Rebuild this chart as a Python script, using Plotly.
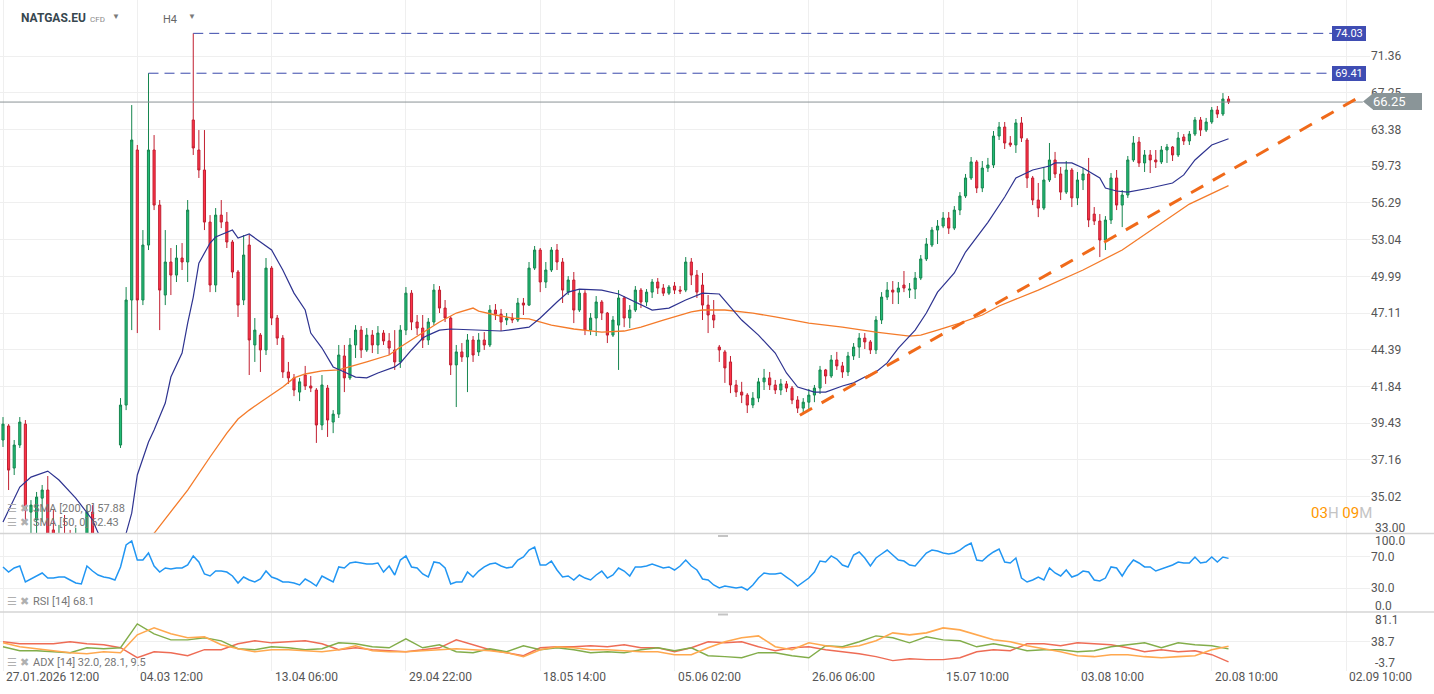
import math
import plotly.graph_objects as go

# ---------------- DATA ----------------
opens = [
38.37, 39.25, 36.67, 38.06, 39.37, 34.15, 33.72, 34.93, 35.39, 33.18,
32.39, 32.65, 32.13, 31.61, 32.39, 31.11, 34.15, 32.03, 30.12, 29.64,
28.70, 38.06, 40.60, 48.11, 61.31, 48.11, 52.58, 61.31, 56.09, 48.50,
51.16, 50.09, 51.49, 51.16, 64.36, 61.31, 59.36, 54.57, 49.29, 55.19,
54.57, 52.84, 50.34, 48.11, 52.58, 44.74, 45.46, 44.38, 50.66, 46.73,
45.24, 42.83, 42.42, 41.46, 42.62, 41.87, 41.60, 39.31, 41.73, 39.50,
40.01, 43.95, 42.42, 44.74, 45.83, 44.38, 45.46, 44.74, 45.61, 45.03,
44.38, 43.53, 45.83, 48.65, 46.43, 45.98, 45.10, 46.43, 48.89, 47.49,
46.73, 43.32, 44.24, 43.88, 45.10, 44.24, 45.10, 44.74, 47.34, 47.03,
46.58, 46.73, 46.58, 47.88, 47.72, 50.66, 52.16, 49.53, 50.50, 52.16,
51.16, 48.73, 49.69, 47.34, 48.65, 45.83, 46.73, 47.96, 47.11, 45.46,
46.20, 48.27, 46.73, 47.34, 48.89, 47.96, 48.73, 49.53, 49.05, 48.65,
49.21, 48.89, 48.89, 51.16, 50.09, 49.29, 47.72, 46.96, 44.59, 44.24,
43.53, 41.94, 41.46, 41.26, 40.60, 41.06, 42.15, 42.42, 41.94, 41.60,
42.01, 41.73, 40.93, 40.40, 40.79, 41.26, 41.73, 42.97, 42.55, 43.67,
43.25, 42.83, 43.95, 44.59, 45.24, 44.96, 44.38, 46.58, 48.34, 48.89,
48.73, 49.29, 48.89, 48.97, 49.85, 51.41, 52.58, 53.87, 54.22, 54.93,
54.04, 55.64, 56.92, 58.60, 60.14, 57.66, 59.55, 59.84, 62.71, 63.63,
62.01, 61.81, 64.05, 62.31, 58.60, 56.55, 55.82, 58.41, 60.33, 58.98,
57.28, 59.36, 56.74, 58.41, 58.98, 55.28, 54.66, 53.01, 54.75, 58.60,
56.09, 57.01, 60.33, 62.11, 60.04, 60.82, 60.33, 60.14, 61.31, 61.61,
60.82, 62.61, 62.21, 62.91, 64.36, 63.32, 64.15, 65.40, 64.98, 66.58,
]
highs = [
39.82, 39.37, 38.37, 39.82, 39.63, 34.82, 35.28, 35.68, 36.20, 34.26,
33.45, 33.99, 33.18, 33.29, 32.91, 34.54, 34.54, 32.65, 31.11, 30.61,
29.64, 41.06, 49.13, 65.93, 61.81, 53.87, 69.41, 62.81, 56.55, 53.87,
52.33, 52.58, 52.75, 56.55, 74.03, 63.32, 63.32, 55.19, 55.82, 56.55,
55.46, 53.01, 50.50, 53.44, 53.44, 46.73, 45.61, 51.49, 50.83, 46.96,
45.46, 43.53, 42.69, 42.42, 43.25, 42.55, 41.73, 42.62, 41.94, 40.27,
44.74, 44.74, 45.24, 46.20, 46.13, 45.98, 45.83, 46.13, 45.83, 45.61,
45.83, 46.20, 49.13, 48.89, 46.96, 46.96, 46.73, 49.37, 49.21, 48.11,
46.88, 44.74, 44.88, 45.54, 45.39, 45.61, 45.68, 47.72, 47.80, 47.42,
47.11, 47.11, 48.27, 48.27, 51.16, 52.50, 52.33, 51.16, 52.41, 52.67,
51.49, 50.01, 50.34, 48.89, 48.89, 47.11, 48.42, 48.11, 47.19, 46.88,
48.89, 48.42, 47.72, 49.21, 49.05, 48.97, 49.77, 49.85, 49.37, 49.29,
49.53, 49.21, 51.57, 51.49, 50.50, 50.26, 48.50, 48.11, 44.74, 44.38,
43.95, 42.28, 42.15, 41.39, 41.46, 42.42, 43.04, 42.83, 42.28, 42.35,
42.21, 41.87, 41.19, 41.06, 41.67, 41.94, 43.25, 43.04, 44.02, 44.24,
43.53, 44.24, 44.88, 45.61, 45.61, 45.10, 46.88, 48.73, 49.53, 49.61,
49.53, 50.42, 49.45, 50.34, 51.74, 53.18, 54.13, 54.75, 55.46, 55.46,
56.00, 57.28, 58.98, 60.62, 60.33, 60.23, 60.53, 63.22, 64.15, 64.15,
62.71, 64.46, 64.67, 62.51, 58.79, 58.13, 59.65, 62.01, 61.12, 59.65,
60.23, 59.55, 59.17, 59.55, 60.53, 55.91, 55.28, 55.10, 59.07, 59.36,
57.47, 60.72, 62.71, 62.61, 61.31, 61.31, 61.31, 61.71, 61.91, 61.71,
63.12, 62.91, 63.22, 64.67, 64.67, 64.57, 65.72, 65.83, 67.22, 66.90,
]
lows = [
37.94, 35.39, 36.26, 37.88, 33.72, 32.65, 32.91, 33.61, 32.39, 32.13,
31.61, 31.87, 31.11, 30.86, 30.86, 30.86, 31.61, 29.64, 28.70, 27.79,
27.34, 37.88, 40.27, 45.83, 45.61, 47.72, 52.16, 55.64, 45.83, 47.72,
48.50, 49.53, 50.50, 49.53, 60.82, 58.60, 53.87, 48.73, 48.73, 54.04,
52.33, 49.85, 46.81, 47.72, 42.62, 43.53, 42.83, 44.02, 46.20, 44.74,
42.42, 42.01, 41.19, 40.86, 41.60, 41.46, 38.19, 38.99, 38.56, 38.80,
39.76, 41.46, 42.28, 43.81, 43.81, 44.24, 44.16, 44.09, 44.74, 44.02,
42.97, 43.11, 45.46, 45.83, 45.46, 44.52, 44.74, 46.20, 47.11, 46.43,
42.62, 40.47, 43.53, 41.46, 43.53, 43.95, 44.38, 44.59, 46.58, 45.76,
46.20, 46.35, 46.43, 46.96, 47.65, 50.50, 48.73, 49.05, 50.34, 50.50,
47.88, 48.50, 46.35, 47.19, 45.46, 45.46, 45.39, 46.58, 44.88, 45.32,
42.97, 46.05, 45.98, 47.19, 47.49, 47.65, 48.27, 48.58, 48.42, 48.50,
48.58, 48.58, 48.73, 49.29, 48.27, 46.58, 45.61, 45.98, 43.53, 42.08,
41.39, 41.13, 40.73, 40.08, 40.40, 40.79, 41.60, 41.60, 41.33, 41.26,
41.46, 40.66, 40.08, 40.01, 40.27, 40.79, 41.33, 42.01, 42.42, 42.97,
42.42, 42.55, 43.67, 43.81, 44.45, 44.09, 44.09, 46.28, 48.11, 47.80,
47.80, 48.73, 48.27, 48.19, 49.69, 51.24, 52.41, 52.67, 54.04, 53.53,
53.87, 55.19, 56.74, 58.41, 57.19, 57.28, 59.17, 59.55, 62.31, 61.41,
61.61, 61.02, 62.11, 57.66, 56.09, 55.01, 55.64, 58.22, 58.60, 56.55,
57.10, 55.91, 56.09, 57.47, 54.13, 54.31, 51.57, 52.16, 54.40, 55.64,
54.13, 56.74, 60.14, 59.65, 59.17, 59.07, 59.55, 59.94, 60.04, 60.23,
60.62, 61.81, 61.81, 62.71, 62.71, 63.12, 63.95, 64.57, 64.77, 66.04,
]
closes = [
39.37, 36.55, 38.06, 39.50, 34.26, 34.54, 34.99, 35.39, 32.91, 32.39,
32.65, 32.13, 31.61, 32.39, 31.11, 34.15, 32.13, 30.12, 29.64, 28.70,
29.16, 40.60, 48.11, 62.31, 48.11, 52.58, 61.31, 56.09, 48.89, 51.16,
50.09, 51.49, 51.16, 55.64, 61.51, 59.36, 54.57, 49.29, 55.19, 54.57,
52.84, 50.34, 47.72, 51.74, 45.10, 45.83, 44.38, 50.66, 46.73, 45.24,
42.83, 42.42, 41.60, 42.15, 41.87, 41.73, 39.31, 41.94, 39.63, 40.01,
44.02, 42.42, 44.74, 45.83, 44.38, 45.46, 44.74, 45.61, 45.03, 44.52,
43.53, 45.83, 48.65, 46.43, 45.98, 45.10, 46.43, 48.89, 47.49, 46.73,
43.32, 44.24, 43.88, 45.10, 44.02, 45.10, 44.74, 47.34, 47.03, 46.43,
46.73, 46.58, 47.88, 47.72, 50.66, 52.16, 49.53, 50.50, 52.16, 51.16,
48.89, 49.69, 47.34, 48.65, 45.83, 46.73, 47.96, 47.11, 45.46, 46.58,
48.27, 46.73, 47.34, 48.89, 47.96, 48.73, 49.53, 49.05, 48.65, 49.13,
48.89, 48.81, 51.16, 50.09, 48.73, 47.72, 46.96, 46.58, 44.38, 43.11,
41.94, 41.46, 41.26, 40.60, 41.06, 42.15, 42.42, 41.94, 41.60, 42.01,
41.73, 40.93, 40.40, 40.79, 41.26, 41.73, 42.97, 42.55, 43.67, 43.25,
42.83, 43.95, 44.59, 45.24, 44.96, 44.38, 46.58, 48.34, 48.89, 48.73,
49.05, 49.05, 48.97, 49.85, 51.41, 52.67, 53.87, 54.22, 54.93, 54.04,
55.64, 56.92, 58.60, 60.14, 57.66, 59.55, 59.84, 62.71, 63.63, 62.01,
61.81, 64.05, 62.51, 58.60, 56.55, 55.82, 58.41, 60.33, 58.98, 57.28,
59.36, 56.74, 58.41, 58.98, 54.75, 54.66, 53.01, 54.75, 58.60, 56.09,
57.01, 60.33, 62.01, 60.04, 60.82, 60.33, 60.14, 61.31, 61.61, 60.82,
62.51, 62.21, 62.91, 64.36, 63.32, 64.15, 65.40, 64.98, 66.58, 66.25,
]
candle_idx = list(range(len(closes)))

x_tick_idx = [0, 24, 48, 72, 96, 120, 144, 168, 192, 216, 240]
x_tick_text = ["27.01.2026 12:00", "04.03 12:00", "13.04 06:00", "29.04 22:00",
               "18.05 14:00", "05.06 02:00", "26.06 06:00", "15.07 10:00",
               "03.08 10:00", "20.08 10:00", "02.09 10:00"]

price_ticks = [35.02, 37.16, 39.43, 41.84, 44.39, 47.11, 49.99, 53.04,
               56.29, 59.73, 63.38, 67.25, 71.36]
price_min, price_max = 33.00, 78.13

sma50_idx = [0, 3, 5, 8, 10, 13, 16, 17, 19, 21, 22, 23, 24, 26, 27, 29, 30, 32, 33, 34,
             35, 37, 38, 41, 42, 44, 46, 48, 50, 52, 54, 55, 57, 59, 61, 63, 65, 67, 70, 71,
             73, 75, 76, 78, 80, 84, 89, 94, 96, 99, 101, 103, 107, 110, 113, 116, 119, 122, 125, 128,
             130, 132, 135, 138, 140, 142, 145, 147, 150, 152, 154, 156, 158, 160, 163, 165, 167, 170, 172, 175,
             176, 179, 181, 184, 187, 188, 191, 193, 196, 197, 199, 201, 205, 209, 211, 213, 216, 219]
sma50 = [33.61, 35.56, 36.14, 36.49, 35.97, 34.93, 33.72, 33.02, 32.60, 32.70, 33.00, 34.09, 36.26, 38.25, 38.99, 40.73, 42.48, 44.16, 46.35, 48.34,
         51.07, 52.75, 53.27, 53.87, 53.18, 53.53, 52.84, 52.16, 50.50, 48.65, 47.34, 45.61, 44.52, 43.18, 42.83, 42.48, 42.42, 42.76, 43.18, 43.46,
         44.38, 45.24, 45.46, 45.83, 45.91, 45.83, 45.76, 46.05, 46.73, 47.96, 48.73, 48.97, 48.89, 48.58, 47.96, 47.34, 47.49, 48.11, 48.65, 48.58,
         47.57, 46.58, 45.46, 44.16, 42.76, 41.80, 41.46, 41.46, 41.87, 42.08, 42.48, 42.83, 43.46, 44.52, 45.83, 47.11, 48.73, 50.26, 51.99, 53.95,
         54.55, 56.83, 58.60, 59.36, 59.75, 60.04, 60.04, 59.55, 58.60, 57.66, 57.38, 57.28, 57.66, 58.13, 58.89, 60.33, 61.81, 62.43]

sma200_idx = [20, 24, 27, 33, 37, 40, 42, 44, 46, 50, 52, 54, 57, 60, 65, 69, 71, 75, 78, 81,
              84, 85, 88, 91, 94, 98, 102, 107, 111, 114, 118, 123, 125, 129, 134, 138, 144, 150, 156, 162,
              164, 167, 171, 175, 178, 185, 193, 200, 206, 212, 219]
sma200 = [31.30, 32.40, 33.00, 35.39, 37.33, 38.80, 39.69, 40.27, 40.79, 41.80, 42.42, 42.69, 42.90, 42.97, 43.53, 44.02, 44.59, 45.61, 46.43, 47.11,
          47.49, 47.26, 46.96, 46.73, 46.66, 46.20, 45.91, 45.68, 45.76, 46.05, 46.58, 47.19, 47.34, 47.34, 47.11, 46.81, 46.35, 46.05, 45.68, 45.39,
          45.46, 45.83, 46.35, 46.96, 47.65, 48.89, 50.50, 52.16, 54.13, 56.18, 57.88]

rsi = [
57.1, 50.6, 55.8, 58.3, 37.8, 41.7, 45.5, 49.4, 42.9, 42.9,
44.2, 44.2, 40.4, 36.5, 35.3, 58.3, 51.9, 46.8, 44.2, 42.9,
40.4, 57.1, 85.3, 90.4, 66.0, 66.0, 75.0, 58.3, 50.6, 55.8,
54.5, 55.8, 55.8, 59.6, 71.2, 63.5, 48.1, 45.5, 51.9, 51.9,
50.6, 45.5, 36.5, 44.2, 40.4, 37.8, 41.7, 51.9, 44.2, 41.7,
37.8, 37.8, 36.5, 34.0, 41.7, 37.8, 32.7, 45.5, 41.7, 37.8,
57.1, 55.8, 62.2, 63.5, 62.2, 60.9, 60.9, 62.2, 50.6, 58.3,
46.8, 66.0, 71.2, 57.1, 55.8, 48.1, 44.2, 63.5, 62.2, 55.8,
35.3, 37.8, 37.8, 50.6, 44.2, 51.9, 57.1, 60.9, 62.2, 58.3,
55.8, 57.1, 66.0, 69.9, 78.8, 82.7, 59.6, 59.6, 64.7, 53.2,
44.2, 45.5, 40.4, 46.8, 42.9, 40.4, 46.8, 51.9, 42.9, 46.8,
55.8, 51.9, 45.5, 57.1, 57.1, 58.3, 60.9, 58.3, 55.8, 57.1,
53.2, 58.3, 66.0, 58.3, 53.2, 41.7, 40.4, 34.0, 30.1, 32.7,
31.4, 30.1, 31.4, 27.6, 34.0, 42.9, 49.4, 48.1, 48.1, 49.4,
44.2, 39.1, 32.7, 37.8, 42.9, 50.6, 64.7, 63.5, 71.2, 67.3,
59.6, 57.1, 72.4, 76.3, 68.6, 58.3, 68.6, 73.7, 78.8, 72.4,
66.0, 64.7, 59.6, 58.3, 67.3, 75.0, 78.8, 77.6, 75.0, 73.7,
75.0, 78.8, 84.0, 87.8, 66.0, 64.7, 71.2, 76.3, 80.1, 63.5,
62.2, 68.6, 42.9, 37.8, 40.4, 44.2, 40.4, 55.8, 49.4, 45.5,
53.2, 44.2, 46.8, 51.9, 50.6, 40.4, 39.1, 42.9, 57.1, 55.8,
45.5, 57.1, 66.0, 62.2, 57.1, 57.1, 51.9, 54.5, 57.1, 59.6,
63.5, 62.2, 62.2, 69.9, 62.2, 63.5, 69.9, 63.5, 69.9, 68.1,
]

adx_idx = [0, 3, 6, 9, 12, 15, 18, 21, 24, 27, 30, 33, 36, 39, 42, 45, 48, 51, 54, 57,
           60, 63, 66, 69, 72, 75, 78, 81, 84, 87, 90, 93, 96, 99, 102, 105, 108, 111, 114, 117,
           120, 123, 126, 129, 132, 135, 138, 141, 144, 147, 150, 153, 156, 159, 162, 165, 168, 171, 174, 177,
           180, 183, 186, 189, 192, 195, 198, 201, 204, 207, 210, 213, 216, 219]
adx_line = [36.8, 31.1, 28.3, 25.4, 22.6, 21.1, 24.0, 22.6, 48.3, 58.3, 49.7, 44.0, 45.4, 34.0, 28.3, 24.0, 26.9, 26.9, 25.4, 24.0,
            26.9, 32.6, 25.4, 24.0, 24.0, 25.4, 26.9, 28.3, 26.9, 25.4, 22.6, 16.9, 26.9, 31.1, 29.7, 26.9, 26.9, 25.4, 24.0, 24.0,
            19.7, 19.7, 29.7, 38.3, 44.0, 46.8, 31.1, 26.9, 36.8, 32.6, 29.7, 32.6, 39.7, 51.1, 48.3, 51.1, 58.3, 55.4, 48.3, 41.1,
            38.3, 32.6, 28.3, 24.0, 18.3, 16.9, 19.7, 19.7, 16.9, 15.4, 16.9, 18.3, 26.9, 32.0]
plus_di = [31.1, 25.4, 25.4, 24.0, 22.6, 29.7, 28.3, 29.7, 64.0, 49.7, 41.1, 41.1, 44.0, 39.7, 28.3, 26.9, 31.1, 29.7, 26.9, 28.3,
           36.8, 35.4, 31.1, 29.7, 42.6, 29.7, 34.0, 24.0, 22.6, 28.3, 24.0, 32.6, 26.9, 29.7, 26.9, 22.6, 24.0, 22.6, 26.9, 29.7,
           25.4, 29.7, 18.3, 16.9, 15.4, 22.6, 22.6, 18.3, 15.4, 32.6, 31.1, 38.3, 46.8, 44.0, 36.8, 45.4, 41.1, 39.7, 31.1, 35.4,
           31.1, 25.4, 26.9, 26.9, 24.0, 25.4, 31.1, 34.0, 36.8, 29.7, 36.8, 34.0, 32.6, 28.1]
minus_di = [38.3, 35.4, 35.4, 35.4, 38.3, 35.4, 34.0, 29.7, 15.4, 24.0, 22.6, 18.3, 26.9, 26.9, 35.4, 39.7, 36.8, 38.3, 39.7, 35.4,
            26.9, 29.7, 26.9, 25.4, 24.0, 26.9, 29.7, 41.1, 34.0, 26.9, 22.6, 18.3, 29.7, 31.1, 31.1, 32.6, 31.1, 34.0, 29.7, 29.7,
            24.0, 29.7, 38.3, 36.8, 38.3, 31.1, 25.4, 29.7, 31.1, 26.9, 24.0, 21.1, 16.9, 11.2, 14.0, 12.6, 12.6, 15.4, 24.0, 26.9,
            25.4, 35.4, 35.4, 32.6, 36.8, 35.4, 34.0, 29.7, 24.0, 26.9, 24.0, 25.4, 19.7, 9.5]

trend_idx = [142.4, 242.5]
trend_val = [39.94, 66.83]
level_vals = [74.03, 69.41]
level_start = [34, 26]
level_end = 237.5
last_price = 66.25

# ---------------- GEOMETRY ----------------
FIG_W, FIG_H = 1434, 694
M_L, M_R, M_T, M_B = 0, 64, 0, 23
W = FIG_W - M_L - M_R      # plot width px
H = FIG_H - M_T - M_B      # plot height px
X_RANGE = [-0.536, 244.28]


def px(xp):
    return xp / W


def py(yp):
    return (H - yp) / H


GRID = "#efefef"
TXT = "#555555"
FONT = "Roboto, Arial, sans-serif"

fig = go.Figure()

fig.add_trace(go.Candlestick(
    x=candle_idx, open=opens, high=highs, low=lows, close=closes,
    xaxis="x", yaxis="y", whiskerwidth=0, showlegend=False, hoverinfo="skip",
    increasing=dict(line=dict(color="#16864f", width=1), fillcolor="#22bb76"),
    decreasing=dict(line=dict(color="#c11f30", width=1), fillcolor="#ff3349"),
))
fig.add_trace(go.Scatter(x=sma200_idx, y=sma200, mode="lines", xaxis="x", yaxis="y",
                         line=dict(color="#f47b2a", width=1.3), showlegend=False, hoverinfo="skip"))
fig.add_trace(go.Scatter(x=sma50_idx, y=sma50, mode="lines", xaxis="x", yaxis="y",
                         line=dict(color="#2e3390", width=1.2), showlegend=False, hoverinfo="skip"))
for v, s in zip(level_vals, level_start):
    fig.add_trace(go.Scatter(x=[s, level_end], y=[v, v], mode="lines", xaxis="x", yaxis="y",
                             line=dict(color="#3949ab", width=1, dash="10px,6px"),
                             showlegend=False, hoverinfo="skip"))
fig.add_trace(go.Scatter(x=[X_RANGE[0], 243.0], y=[last_price, last_price], mode="lines",
                         xaxis="x", yaxis="y", line=dict(color="#8a9396", width=1),
                         showlegend=False, hoverinfo="skip"))
fig.add_trace(go.Scatter(x=trend_idx, y=trend_val, mode="lines", xaxis="x", yaxis="y",
                         line=dict(color="#f06a1a", width=3, dash="14px,11px"),
                         showlegend=False, hoverinfo="skip"))

fig.add_trace(go.Scatter(x=candle_idx, y=rsi, mode="lines", xaxis="x2", yaxis="y2",
                         line=dict(color="#2196f3", width=1.5), showlegend=False, hoverinfo="skip"))

fig.add_trace(go.Scatter(x=adx_idx, y=minus_di, mode="lines", xaxis="x3", yaxis="y3",
                         line=dict(color="#ee6c55", width=1.4), showlegend=False, hoverinfo="skip"))
fig.add_trace(go.Scatter(x=adx_idx, y=plus_di, mode="lines", xaxis="x3", yaxis="y3",
                         line=dict(color="#82ad4a", width=1.4), showlegend=False, hoverinfo="skip"))
fig.add_trace(go.Scatter(x=adx_idx, y=adx_line, mode="lines", xaxis="x3", yaxis="y3",
                         line=dict(color="#ffa84f", width=1.6), showlegend=False, hoverinfo="skip"))

xcommon = dict(range=X_RANGE, tickvals=x_tick_idx, showticklabels=False, showgrid=True,
               gridcolor=GRID, gridwidth=1, zeroline=False, showline=False, ticks="",
               domain=[0, 1])
ycommon = dict(side="right", showgrid=True, gridcolor=GRID, zeroline=False, showline=False,
               ticks="", tickfont=dict(size=12, color=TXT, family=FONT))

main_dom = [py(533.3), 1.0]
rsi_dom = [py(611.5), py(533.5)]
adx_dom = [0.0, py(612.0)]

annotations = []


def ann(text, xp, yp, size=12, color=TXT, xanchor="left", **kw):
    annotations.append(dict(text=text, x=px(xp), y=py(yp), xref="paper", yref="paper",
                            showarrow=False, xanchor=xanchor, yanchor="middle",
                            font=dict(size=size, color=color, family=FONT), **kw))


# edge labels of the three value axes
ann("33.00", 1373, 528)
ann("100.0", 1373, 541)
ann("0.0", 1373, 606)
ann("81.1", 1373, 620)
ann("-3.7", 1373, 663)

# header
ann("<b>NATGAS.EU</b>", 19, 18, size=12, color="#37474f")
ann("CFD", 88, 19, size=8, color="#8a8a8a")
ann("▼", 116, 17, size=8, color="#7a7a7a", xanchor="center")
ann("H4", 161, 19, size=11, color="#666666")
ann("▼", 192, 17, size=8, color="#7a7a7a", xanchor="center")

# indicator legends
for label, yp in [("SMA [200, 0] 57.88", 508), ("SMA [50, 0] 62.43", 522),
                  ("RSI [14] 68.1", 601), ("ADX [14] 32.0, 28.1, 9.5", 662)]:
    ann("☰ ✖", 5, yp, size=11, color="#b0b0b0")
    ann(label, 31, yp, size=11, color="#777777")

# countdown
ann('<span style="color:#ff9800">03</span><span style="color:#c4c4c4">H </span>'
    '<span style="color:#ff9800">09</span><span style="color:#c4c4c4">M</span>',
    1309, 513, size=15)

# level boxes
for v, yp in [(74.03, 33.5), (69.41, 73.5)]:
    annotations.append(dict(text=f"{v:.2f}", x=px(1349), y=py(yp), xref="paper", yref="paper",
                            showarrow=False, xanchor="center", yanchor="middle",
                            bgcolor="#3f4db3", width=34, height=15, borderpad=0, borderwidth=0,
                            font=dict(size=11, color="white", family=FONT)))
# last price box
annotations.append(dict(text=f"{last_price:.2f}", x=px(1373), y=py(101.5), xref="paper",
                        yref="paper", showarrow=False, xanchor="left", yanchor="middle",
                        align="left", bgcolor="#8a9598", width=49, height=17, borderpad=0,
                        borderwidth=0, font=dict(size=13, color="white", family=FONT)))

# x labels
for i, t in zip(x_tick_idx, x_tick_text):
    annotations.append(dict(text=t, x=i + 0.2, y=py(677), xref="x", yref="paper",
                            showarrow=False, xanchor="left", yanchor="middle",
                            font=dict(size=12, color=TXT, family=FONT)))

shapes = [
    dict(type="line", xref="paper", yref="paper", x0=0, x1=FIG_W / W, y0=py(533.4), y1=py(533.4),
         line=dict(color="#d4d4d4", width=1.5)),
    dict(type="line", xref="paper", yref="paper", x0=0, x1=FIG_W / W, y0=py(612), y1=py(612),
         line=dict(color="#d4d4d4", width=1.5)),
    dict(type="rect", xref="paper", yref="paper", x0=px(718), x1=px(728), y0=py(537), y1=py(535),
         fillcolor="#c4c4c4", line=dict(width=0)),
    dict(type="rect", xref="paper", yref="paper", x0=px(718), x1=px(728), y0=py(615.5), y1=py(613.5),
         fillcolor="#c4c4c4", line=dict(width=0)),
    dict(type="path", xref="paper", yref="paper",
         path=f"M {px(1363)},{py(101.5)} L {px(1373.5)},{py(93)} L {px(1373.5)},{py(110)} Z",
         fillcolor="#8a9598", line=dict(width=0)),
]

fig.update_layout(
    width=FIG_W, height=FIG_H,
    margin=dict(l=M_L, r=M_R, t=M_T, b=M_B),
    paper_bgcolor="white", plot_bgcolor="white",
    font=dict(family=FONT, color=TXT),
    showlegend=False, hovermode=False,
    boxgap=0.62, boxgroupgap=0.0,
    xaxis=dict(anchor="y", rangeslider=dict(visible=False), **xcommon),
    xaxis2=dict(anchor="y2", **xcommon),
    xaxis3=dict(anchor="y3", **xcommon),
    yaxis=dict(anchor="x", type="log", domain=main_dom,
               range=[math.log10(price_min), math.log10(price_max)],
               tickvals=price_ticks, ticktext=[f"{v:.2f}" for v in price_ticks], **ycommon),
    yaxis2=dict(anchor="x2", domain=rsi_dom, range=[0, 100], tickvals=[30, 70],
                ticktext=["30.0", "70.0"], **ycommon),
    yaxis3=dict(anchor="x3", domain=adx_dom, range=[-3.7, 81.1], tickvals=[38.7],
                ticktext=["38.7"], **ycommon),
    annotations=annotations,
    shapes=shapes,
)

fig.write_html("out.html", config={"displayModeBar": False, "staticPlot": True})

# remove the browser's default page margin so the figure sits at the window's corner
with open("out.html", "r", encoding="utf-8") as f:
    html = f.read()
html = html.replace("<head>", "<head><style>html,body{margin:0;padding:0;overflow:hidden;}</style>", 1)
with open("out.html", "w", encoding="utf-8") as f:
    f.write(html)
